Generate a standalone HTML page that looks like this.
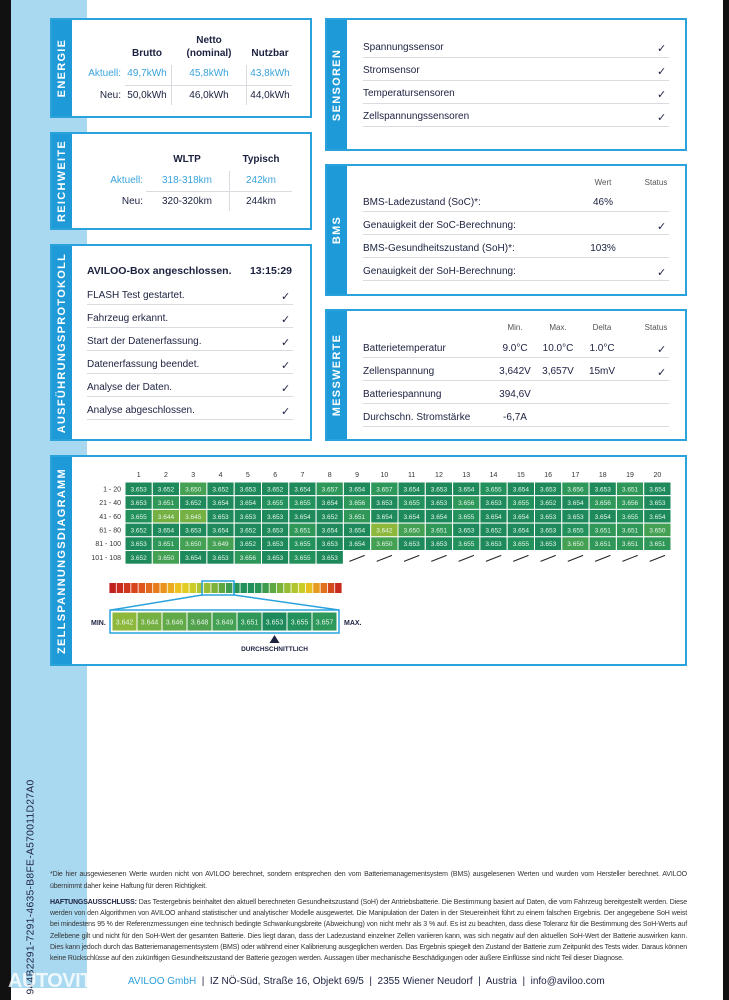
<!DOCTYPE html>
<html><head><meta charset="utf-8"><style>
*{box-sizing:border-box;margin:0;padding:0}
body{width:729px;height:1000px;position:relative;background:#fff;font-family:"Liberation Sans",Arial,sans-serif;color:#1c2140;overflow:hidden}
.abs{position:absolute}
.panel{position:absolute;border:2px solid #2aa3dd;background:#fff}
.tab{position:absolute;left:0;top:0;bottom:0;width:20px;background:#1e9ad8}
.tab span{position:absolute;left:50%;top:50%;transform:translate(-50%,-50%) rotate(-90deg);color:#fff;font-weight:bold;font-size:11px;letter-spacing:1.3px;white-space:nowrap}
.t{position:absolute;font-size:10px;white-space:nowrap}
.c{transform:translateX(-50%)}
.r{transform:translateX(-100%)}
.b{font-weight:bold}
.blue{color:#3aa3dc}
.hl{position:absolute;height:1px;background:#d8dbe0}
.vl{position:absolute;width:1px;background:#d8dbe0}
.chk{position:absolute;font-size:11px}
.hdr{font-size:8px;color:#555}
.foot{position:absolute;left:50px;width:637px;font-size:7px;letter-spacing:-0.14px;color:#333;text-align:justify}
</style></head><body>
<div class="abs" style="left:0;top:0;width:11px;height:1000px;background:#111"></div>
<div class="abs" style="left:723px;top:0;width:6px;height:1000px;background:#111"></div>
<div class="abs" style="left:11px;top:0;width:76px;height:988px;background:#a9d9f1"></div>
<div class="abs" style="left:31px;top:887px;transform:translate(-50%,-50%) rotate(-90deg);font-size:10.3px;color:#1c2140;white-space:nowrap;letter-spacing:0.3px">944B2291-7291-4635-B8FE-A570011D27A0</div>

<!-- ENERGIE -->
<div class="panel" style="left:50px;top:18px;width:262px;height:100px">
<div class="tab"><span>ENERGIE</span></div></div>
<div class="t b c" style="left:209px;top:35px">Netto</div>
<div class="t b c" style="left:147px;top:48px">Brutto</div>
<div class="t b c" style="left:209px;top:48px">(nominal)</div>
<div class="t b c" style="left:270px;top:48px">Nutzbar</div>
<div class="t r blue" style="left:121px;top:68px">Aktuell:</div>
<div class="t c blue" style="left:147px;top:68px">49,7kWh</div>
<div class="t c blue" style="left:209px;top:68px">45,8kWh</div>
<div class="t c blue" style="left:270px;top:68px">43,8kWh</div>
<div class="t r" style="left:121px;top:90px">Neu:</div>
<div class="t c" style="left:147px;top:90px">50,0kWh</div>
<div class="t c" style="left:209px;top:90px">46,0kWh</div>
<div class="t c" style="left:270px;top:90px">44,0kWh</div>
<div class="vl" style="left:171px;top:65px;height:40px"></div>
<div class="vl" style="left:246px;top:65px;height:40px"></div>
<div class="hl" style="left:125px;top:85px;width:167px"></div>

<!-- REICHWEITE -->
<div class="panel" style="left:50px;top:132px;width:262px;height:98px">
<div class="tab"><span>REICHWEITE</span></div></div>
<div class="t b c" style="left:187px;top:154px">WLTP</div>
<div class="t b c" style="left:261px;top:154px">Typisch</div>
<div class="t r blue" style="left:143px;top:175px">Aktuell:</div>
<div class="t c blue" style="left:187px;top:175px">318-318km</div>
<div class="t c blue" style="left:261px;top:175px">242km</div>
<div class="t r" style="left:143px;top:196px">Neu:</div>
<div class="t c" style="left:187px;top:196px">320-320km</div>
<div class="t c" style="left:261px;top:196px">244km</div>
<div class="vl" style="left:229px;top:171px;height:40px"></div>
<div class="hl" style="left:146px;top:191px;width:146px"></div>

<!-- PROTOKOLL -->
<div class="panel" style="left:50px;top:244px;width:262px;height:197px">
<div class="tab"><span>AUSFÜHRUNGSPROTOKOLL</span></div></div>
<div class="t b" style="left:87px;top:265px;font-size:10.5px">AVILOO-Box angeschlossen.</div>
<div class="t b r" style="left:292px;top:265px;font-size:10.5px">13:15:29</div>
<div id="proto"></div>

<!-- SENSOREN -->
<div class="panel" style="left:325px;top:18px;width:362px;height:133px">
<div class="tab"><span>SENSOREN</span></div></div>
<div id="sens"></div>

<!-- BMS -->
<div class="panel" style="left:325px;top:164px;width:362px;height:132px">
<div class="tab"><span>BMS</span></div></div>
<div class="t c hdr" style="left:603px;top:178px">Wert</div>
<div class="t c hdr" style="left:656px;top:178px">Status</div>
<div id="bms"></div>

<!-- MESSWERTE -->
<div class="panel" style="left:325px;top:309px;width:362px;height:132px">
<div class="tab"><span>MESSWERTE</span></div></div>
<div class="t c hdr" style="left:515px;top:323px">Min.</div>
<div class="t c hdr" style="left:558px;top:323px">Max.</div>
<div class="t c hdr" style="left:602px;top:323px">Delta</div>
<div class="t c hdr" style="left:656px;top:323px">Status</div>
<div id="mess"></div>

<!-- ZELLSPANNUNG -->
<div class="panel" style="left:50px;top:455px;width:637px;height:211px">
<div class="tab"><span>ZELLSPANNUNGSDIAGRAMM</span></div></div>
<svg id="heat" class="abs" style="left:0;top:0" width="729" height="670"></svg>

<!-- FOOTER -->
<div class="foot" style="top:869px;line-height:11.5px">*Die hier ausgewiesenen Werte wurden nicht von AVILOO berechnet, sondern entsprechen den vom Batteriemanagementsystem (BMS) ausgelesenen Werten und wurden vom Hersteller berechnet. AVILOO übernimmt daher keine Haftung für deren Richtigkeit.</div>
<div class="foot" style="top:897px;line-height:11.2px"><b style="color:#1c2140">HAFTUNGSAUSSCHLUSS:</b> Das Testergebnis beinhaltet den aktuell berechneten Gesundheitszustand (SoH) der Antriebsbatterie. Die Bestimmung basiert auf Daten, die vom Fahrzeug bereitgestellt werden. Diese werden von den Algorithmen von AVILOO anhand statistischer und analytischer Modelle ausgewertet. Die Manipulation der Daten in der Steuereinheit führt zu einem falschen Ergebnis. Der angegebene SoH weist bei mindestens 95 % der Referenzmessungen eine technisch bedingte Schwankungsbreite (Abweichung) von nicht mehr als 3 % auf. Es ist zu beachten, dass diese Toleranz für die Bestimmung des SoH-Werts auf Zellebene gilt und nicht für den SoH-Wert der gesamten Batterie. Dies liegt daran, dass der Ladezustand einzelner Zellen variieren kann, was sich negativ auf den aktuellen SoH-Wert der Batterie auswirken kann. Dies kann jedoch durch das Batteriemanagementsystem (BMS) oder während einer Kalibrierung ausgeglichen werden. Das Ergebnis spiegelt den Zustand der Batterie zum Zeitpunkt des Tests wider. Daraus können keine Rückschlüsse auf den zukünftigen Gesundheitszustand der Batterie gezogen werden. Aussagen über mechanische Beschädigungen oder äußere Einflüsse sind nicht Teil dieser Diagnose.</div>
<div class="abs" style="left:128px;top:976px;font-size:10px;white-space:nowrap;color:#1c2140"><span style="color:#2a9fd8">AVILOO GmbH</span> &nbsp;|&nbsp; IZ NÖ-Süd, Straße 16, Objekt 69/5 &nbsp;|&nbsp; 2355 Wiener Neudorf &nbsp;|&nbsp; Austria &nbsp;|&nbsp; info@aviloo.com</div>
<div class="abs" style="left:8px;top:970px;font-size:20px;font-weight:bold;color:rgba(255,255,255,0.8);letter-spacing:-0.5px">AUTOVIT.RO</div>

<script>
function divText(cls,style,text){const e=document.createElement('div');e.className=cls;e.setAttribute('style',style);e.textContent=text;document.body.appendChild(e);return e;}
const protoRows=["FLASH Test gestartet.","Fahrzeug erkannt.","Start der Datenerfassung.","Datenerfassung beendet.","Analyse der Daten.","Analyse abgeschlossen."];
protoRows.forEach((s,i)=>{const y=290+i*23;
 const t=divText('t',`left:87px;top:${y}px`,s);
 
 
 const c=divText('chk',`left:281px;top:${y}px`,'✓');
 
 
 divText('hl',`left:87px;top:${y+14}px;width:206px`,'');});
const sensRows=["Spannungssensor","Stromsensor","Temperatursensoren","Zellspannungssensoren"];
sensRows.forEach((s,i)=>{const y=42+i*23;
 const t=divText('t',`left:363px;top:${y}px`,s);
 
 
 const c=divText('chk',`left:657px;top:${y}px`,'✓');
 
 
 divText('hl',`left:363px;top:${y+15}px;width:306px`,'');});
const bmsRows=[["BMS-Ladezustand (SoC)*:","46%",false],["Genauigkeit der SoC-Berechnung:","",true],["BMS-Gesundheitszustand (SoH)*:","103%",false],["Genauigkeit der SoH-Berechnung:","",true]];
bmsRows.forEach((r,i)=>{const y=197+i*23;
 const t=divText('t',`left:363px;top:${y}px`,r[0]);
 
 
 if(r[1]){const v=divText('t c',`left:603px;top:${y}px`,r[1]);
 
 }
 if(r[2]){const c=divText('chk',`left:657px;top:${y}px`,'✓');
 
 }
 divText('hl',`left:363px;top:${y+14}px;width:306px`,'');});
const messRows=[["Batterietemperatur","9.0°C","10.0°C","1.0°C",true],["Zellenspannung","3,642V","3,657V","15mV",true],["Batteriespannung","394,6V","","",false],["Durchschn. Stromstärke","-6,7A","","",false]];
messRows.forEach((r,i)=>{const y=343+i*23;
 const t=divText('t',`left:363px;top:${y}px`,r[0]);
 
 
 [[r[1],515],[r[2],558],[r[3],602]].forEach(p=>{if(p[0]){const v=divText('t c',`left:${p[1]}px;top:${y}px`,p[0]);
 
 }});
 if(r[4]){const c=divText('chk',`left:657px;top:${y}px`,'✓');
 
 }
 divText('hl',`left:363px;top:${y+14}px;width:306px`,'');});
</script>
<script>
const colLabels=["1","2","3","4","5","6","7","8","9","10","11","12","13","14","15","16","17","18","19","20"];
const rowLabels=["1 - 20","21 - 40","41 - 60","61 - 80","81 - 100","101 - 108"];
const row1=[3.653,3.652,3.650,3.652,3.653,3.652,3.654,3.657,3.654,3.657,3.654,3.653,3.654,3.655,3.654,3.653,3.656,3.653,3.651,3.654];
const row2=[3.653,3.651,3.652,3.654,3.654,3.655,3.655,3.654,3.656,3.653,3.655,3.653,3.656,3.653,3.655,3.652,3.654,3.656,3.656,3.653];
const row3=[3.655,3.644,3.645,3.653,3.653,3.653,3.654,3.652,3.651,3.654,3.654,3.654,3.655,3.654,3.654,3.653,3.653,3.654,3.655,3.654];
const row4=[3.652,3.654,3.653,3.654,3.652,3.653,3.651,3.654,3.654,3.642,3.650,3.651,3.653,3.652,3.654,3.653,3.655,3.651,3.651,3.650];
const row5=[3.653,3.651,3.650,3.649,3.652,3.653,3.655,3.653,3.654,3.650,3.653,3.653,3.655,3.653,3.655,3.653,3.650,3.651,3.651,3.651];
const row6=[3.652,3.650,3.654,3.653,3.656,3.653,3.655,3.653];
const scaleValues=[3.642,3.644,3.646,3.648,3.649,3.651,3.653,3.655,3.657];
const scaleColors=["#8db83c","#74b042","#62a948","#52a24d","#44a052","#2f9757","#1e8a5c","#22915c","#2e985a"];
const avgValue=3.653;

const svg=document.getElementById('heat');const NS='http://www.w3.org/2000/svg';
function s(tag,a,txt){const e=document.createElementNS(NS,tag);for(const k in a)e.setAttribute(k,a[k]);if(txt!==undefined)e.textContent=txt;svg.appendChild(e);return e;}
const x0=125,cw=27.3,y0=482,rh=13.7;
const xOf=i=>x0+i*cw, yOf=j=>y0+j*rh;
function colorFor(v){let best=0;scaleValues.forEach((sv,i)=>{if(Math.abs(sv-v)<Math.abs(scaleValues[best]-v))best=i;});return scaleColors[best];}
colLabels.forEach((c,i)=>{const t=s('text',{x:xOf(i)+cw/2,y:477,'font-size':7,'text-anchor':'middle',fill:'#333'},c);
 
 });
const rows=[row1,row2,row3,row4,row5,row6];
rows.forEach((row,j)=>{
 const lt=s('text',{x:121,y:yOf(j)+rh/2+2.5,'font-size':7,'text-anchor':'end',fill:'#333'},rowLabels[j]);
 
 
 for(let i=0;i<20;i++){
  if(i<row.length){
   const r=s('rect',{x:xOf(i),y:yOf(j),width:cw,height:rh,fill:colorFor(row[i]),stroke:'#fff','stroke-width':1});
   
   
   const t=s('text',{x:xOf(i)+cw/2,y:yOf(j)+rh/2+2.5,'font-size':6.5,'text-anchor':'middle',fill:'#e8f5ec'},row[i].toFixed(3));
   
   
  } else {
   const l=s('line',{x1:xOf(i)+6,y1:yOf(j)+rh/2+4,x2:xOf(i)+cw-6,y2:yOf(j)+rh/2-2,stroke:'#222','stroke-width':1});
   
   
  }
 }
});
const barColors=["#c0201e","#c82a1e","#d0361e","#d8441e","#de561e","#e2681e","#e67c1e","#ea921e","#ecaa1e","#eec21e","#e2cc22","#cccc28","#b2c42e","#98bc34","#7cb23a","#5ea842","#3f9c4e","#2a9456","#22905a","#22905a","#2a9456","#3f9c4e","#5ea842","#7cb23a","#98bc34","#b2c42e","#cccc28","#e8c01e","#e69a1e","#de701e","#d4481e","#c82a1e"];
const bx0=109,bw=(342-109)/barColors.length;
barColors.forEach((c,i)=>{const r=s('rect',{x:bx0+i*bw+0.4,y:583,width:bw-0.8,height:10,fill:c});
 
 });
const hb=s('rect',{x:202,y:581,width:32,height:14,fill:'none',stroke:'#2aa3dd','stroke-width':1.5});


s('line',{x1:202,y1:595,x2:111,y2:610,stroke:'#2aa3dd','stroke-width':1.5});
s('line',{x1:234,y1:595,x2:339,y2:610,stroke:'#2aa3dd','stroke-width':1.5});
const sb=s('rect',{x:110,y:610,width:229,height:23,fill:'#fff',stroke:'#2aa3dd','stroke-width':1.5});


const sw=(337-112)/scaleValues.length;
scaleValues.forEach((v,i)=>{
 const r=s('rect',{x:112+i*sw,y:612,width:sw,height:19,fill:scaleColors[i],stroke:'#fff','stroke-width':1});
 
 
 const t=s('text',{x:112+i*sw+sw/2,y:624.5,'font-size':7,'text-anchor':'middle',fill:'#e8f5ec'},v.toFixed(3));
 
 
});
const mn=s('text',{x:91,y:625,'font-size':7,'font-weight':'bold',fill:'#1c2140'},'MIN.');


const mx=s('text',{x:344,y:625,'font-size':7,'font-weight':'bold',fill:'#1c2140'},'MAX.');


const ai=scaleValues.indexOf(avgValue);const ax=112+ai*sw+sw/2;
const tri=s('polygon',{points:`${ax-5},643 ${ax+5},643 ${ax},635`,fill:'#1c2140'});


const dl=s('text',{x:ax,y:651,'font-size':6.5,'font-weight':'bold','text-anchor':'middle',fill:'#1c2140'},'DURCHSCHNITTLICH');


</script>
</body></html>
